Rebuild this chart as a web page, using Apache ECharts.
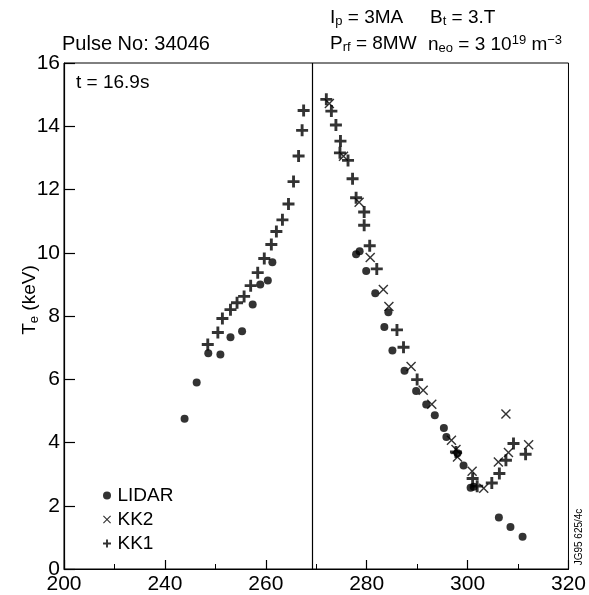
<!DOCTYPE html>
<html><head><meta charset="utf-8">
<script src="https://cdn.jsdelivr.net/npm/echarts@6/dist/echarts.min.js"></script>
<style>html,body{margin:0;padding:0;background:#fff}#c{width:589px;height:595px}</style>
</head><body><div id="c"></div>
<script>
// Tick labels as printed on the original x axis (positions at 220..320 step 20)
const xTickLabels = ["200", "240", "260", "280", "300", "320"];
const lidar = [
  [243.9,4.75],[246.3,5.9],[248.6,6.82],[251.0,6.78],[253.0,7.33],[255.3,7.52],
  [257.4,8.36],[258.9,9.0],[260.4,9.12],[261.3,9.7],
  [277.9,9.95],[278.6,10.05],[279.9,9.42],[281.7,8.72],[284.3,8.12],[283.5,7.65],
  [285.1,6.91],[287.5,6.27],[289.8,5.63],[291.8,5.2],[293.5,4.86],[295.3,4.46],
  [295.8,4.17],[298.0,3.66],[299.2,3.27],[300.6,2.57],[301.2,2.6],
  [306.2,1.63],[308.5,1.33],[310.9,1.02]
];
const kk2 = [
  [272.6,14.72],[275.4,13.05],[278.5,11.6],[280.7,9.85],[283.3,8.84],[284.4,8.3],
  [288.8,6.4],[291.2,5.65],[292.9,5.21],[296.8,4.07],[297.7,3.78],[298.0,3.54],
  [300.9,3.09],[303.2,2.55],[306.1,3.38],[308.1,3.68],[307.6,4.9],[312.1,3.93]
];
const kk1 = [
  [248.5,7.1],[250.5,7.48],[251.4,7.92],[253.0,8.2],[254.3,8.42],[255.7,8.62],
  [257.0,8.96],[258.4,9.37],[259.7,9.82],[261.1,10.26],[262.1,10.67],[263.3,11.04],
  [264.5,11.54],[265.5,12.25],[266.5,13.06],[267.2,13.87],[267.5,14.5],
  [272.0,14.85],[273.0,14.48],[273.9,14.04],[274.8,13.53],[274.7,13.16],[276.3,12.92],
  [277.2,12.34],[277.9,11.74],[279.5,11.29],[279.5,10.87],[280.6,10.22],[282.0,9.49],
  [286.0,7.56],[287.3,7.01],[290.0,5.99],[297.7,3.7],[301.0,2.86],[301.9,2.62],
  [304.8,2.72],[306.3,3.02],[307.6,3.44],[309.1,3.97],[311.5,3.63]
];
const axisPosition = 269.2;

const FONT = '"Liberation Sans", Arial, Helvetica, sans-serif';
const plusPath = 'path://M3.8,0H6.2V3.8H10V6.2H6.2V10H3.8V6.2H0V3.8H3.8Z';
const crossPath = 'path://M0,1L1,0L5,4L9,0L10,1L6,5L10,9L9,10L5,6L1,10L0,9L4,5Z';

const chart = echarts.init(document.getElementById('c'), null, {renderer: 'canvas'});
chart.setOption({
  backgroundColor: '#fff',
  animation: false,
  textStyle: {fontFamily: FONT, color: '#000'},
  grid: {left: 64, right: 20, top: 63, bottom: 26, show: true, borderColor: '#000', borderWidth: 1},
  xAxis: {
    type: 'value', min: 220, max: 320, interval: 20,
    axisLine: {show: true, lineStyle: {color: '#000', width: 1.2}},
    axisTick: {show: true, inside: true, length: 9, lineStyle: {color: '#000', width: 1.2}},
    minorTick: {show: true, splitNumber: 2, length: 5, lineStyle: {color: '#000'}},
    splitLine: {show: false},
    axisLabel: {
      color: '#000', fontSize: 21, fontFamily: FONT, margin: 5,
      formatter: function (v) { return xTickLabels[Math.round((v - 220) / 20)]; }
    }
  },
  yAxis: {
    type: 'value', min: 0, max: 16, interval: 2,
    axisLine: {show: true, lineStyle: {color: '#000', width: 1.2}},
    axisTick: {show: true, inside: true, length: 11, lineStyle: {color: '#000', width: 1.2}},
    splitLine: {show: false},
    axisLabel: {color: '#000', fontSize: 21, fontFamily: FONT, margin: 4}
  },
  legend: {
    orient: 'vertical', left: 98, top: 481, itemGap: 5, itemWidth: 9, itemHeight: 8,
    textStyle: {fontSize: 19, fontFamily: FONT, color: '#000', padding: [0,0,0,1]},
    data: [
      {name: 'LIDAR', icon: 'circle', itemStyle: {color: '#000'}},
      {name: 'KK2', icon: crossPath},
      {name: 'KK1', icon: plusPath}
    ]
  },
  series: [
    {name: 'LIDAR', type: 'scatter', data: lidar, symbol: 'circle', symbolSize: 8,
     itemStyle: {color: '#000'},
     markLine: {silent: true, symbol: 'none', label: {show: false},
       lineStyle: {color: '#000', width: 1.2, type: 'solid'},
       data: [{xAxis: axisPosition}]}},
    {name: 'KK2', type: 'scatter', data: kk2, symbol: crossPath, symbolSize: 10, itemStyle: {color: '#000'}},
    {name: 'KK1', type: 'scatter', data: kk1, symbol: plusPath, symbolSize: 12, itemStyle: {color: '#000'}}
  ],
  graphic: [
    {type: 'text', left: 62, top: 34, style: {text: 'Pulse No: 34046', fontSize: 20, fontFamily: FONT, fill: '#000'}},
    {type: 'text', left: 76, top: 73, style: {text: 't = 16.9s', fontSize: 19, fontFamily: FONT, fill: '#000'}},
    {type: 'text', left: 330, top: 8, style: {
      text: '{n|I}{s|p}{n| = 3MA}', fontFamily: FONT, fill: '#000',
      rich: {n: {fontSize: 19, fontFamily: FONT}, s: {fontSize: 13, fontFamily: FONT, padding: [8,0,0,0]}}}},
    {type: 'text', left: 430, top: 8, style: {
      text: '{n|B}{s|t}{n| = 3.T}', fontFamily: FONT, fill: '#000',
      rich: {n: {fontSize: 19, fontFamily: FONT}, s: {fontSize: 13, fontFamily: FONT, padding: [8,0,0,0]}}}},
    {type: 'text', left: 330, top: 34, style: {
      text: '{n|P}{s|rf}{n| = 8MW}', fontFamily: FONT, fill: '#000',
      rich: {n: {fontSize: 19, fontFamily: FONT}, s: {fontSize: 13, fontFamily: FONT, padding: [8,0,0,0]}}}},
    {type: 'text', left: 428, top: 34, style: {
      text: '{n|n}{s|eo}{n| = 3 10}{u|19}{n| m}{u|−3}', fontFamily: FONT, fill: '#000',
      rich: {n: {fontSize: 19, fontFamily: FONT}, s: {fontSize: 13, fontFamily: FONT, padding: [8,0,0,0]},
             u: {fontSize: 13, fontFamily: FONT, padding: [0,0,8,0]}}}},
    {type: 'text', x: 30, y: 300, rotation: Math.PI / 2, style: {
      text: '{n|T}{s|e}{n| (keV)}', align: 'center', verticalAlign: 'middle', fontFamily: FONT, fill: '#000',
      rich: {n: {fontSize: 19, fontFamily: FONT}, s: {fontSize: 13, fontFamily: FONT, padding: [8,0,0,0]}}}},
    {type: 'text', x: 579, y: 537, rotation: Math.PI / 2, style: {
      text: 'JG95 625/4c', align: 'center', verticalAlign: 'middle', fontSize: 10, fontFamily: FONT, fill: '#000'}}
  ]
});
</script></body></html>
